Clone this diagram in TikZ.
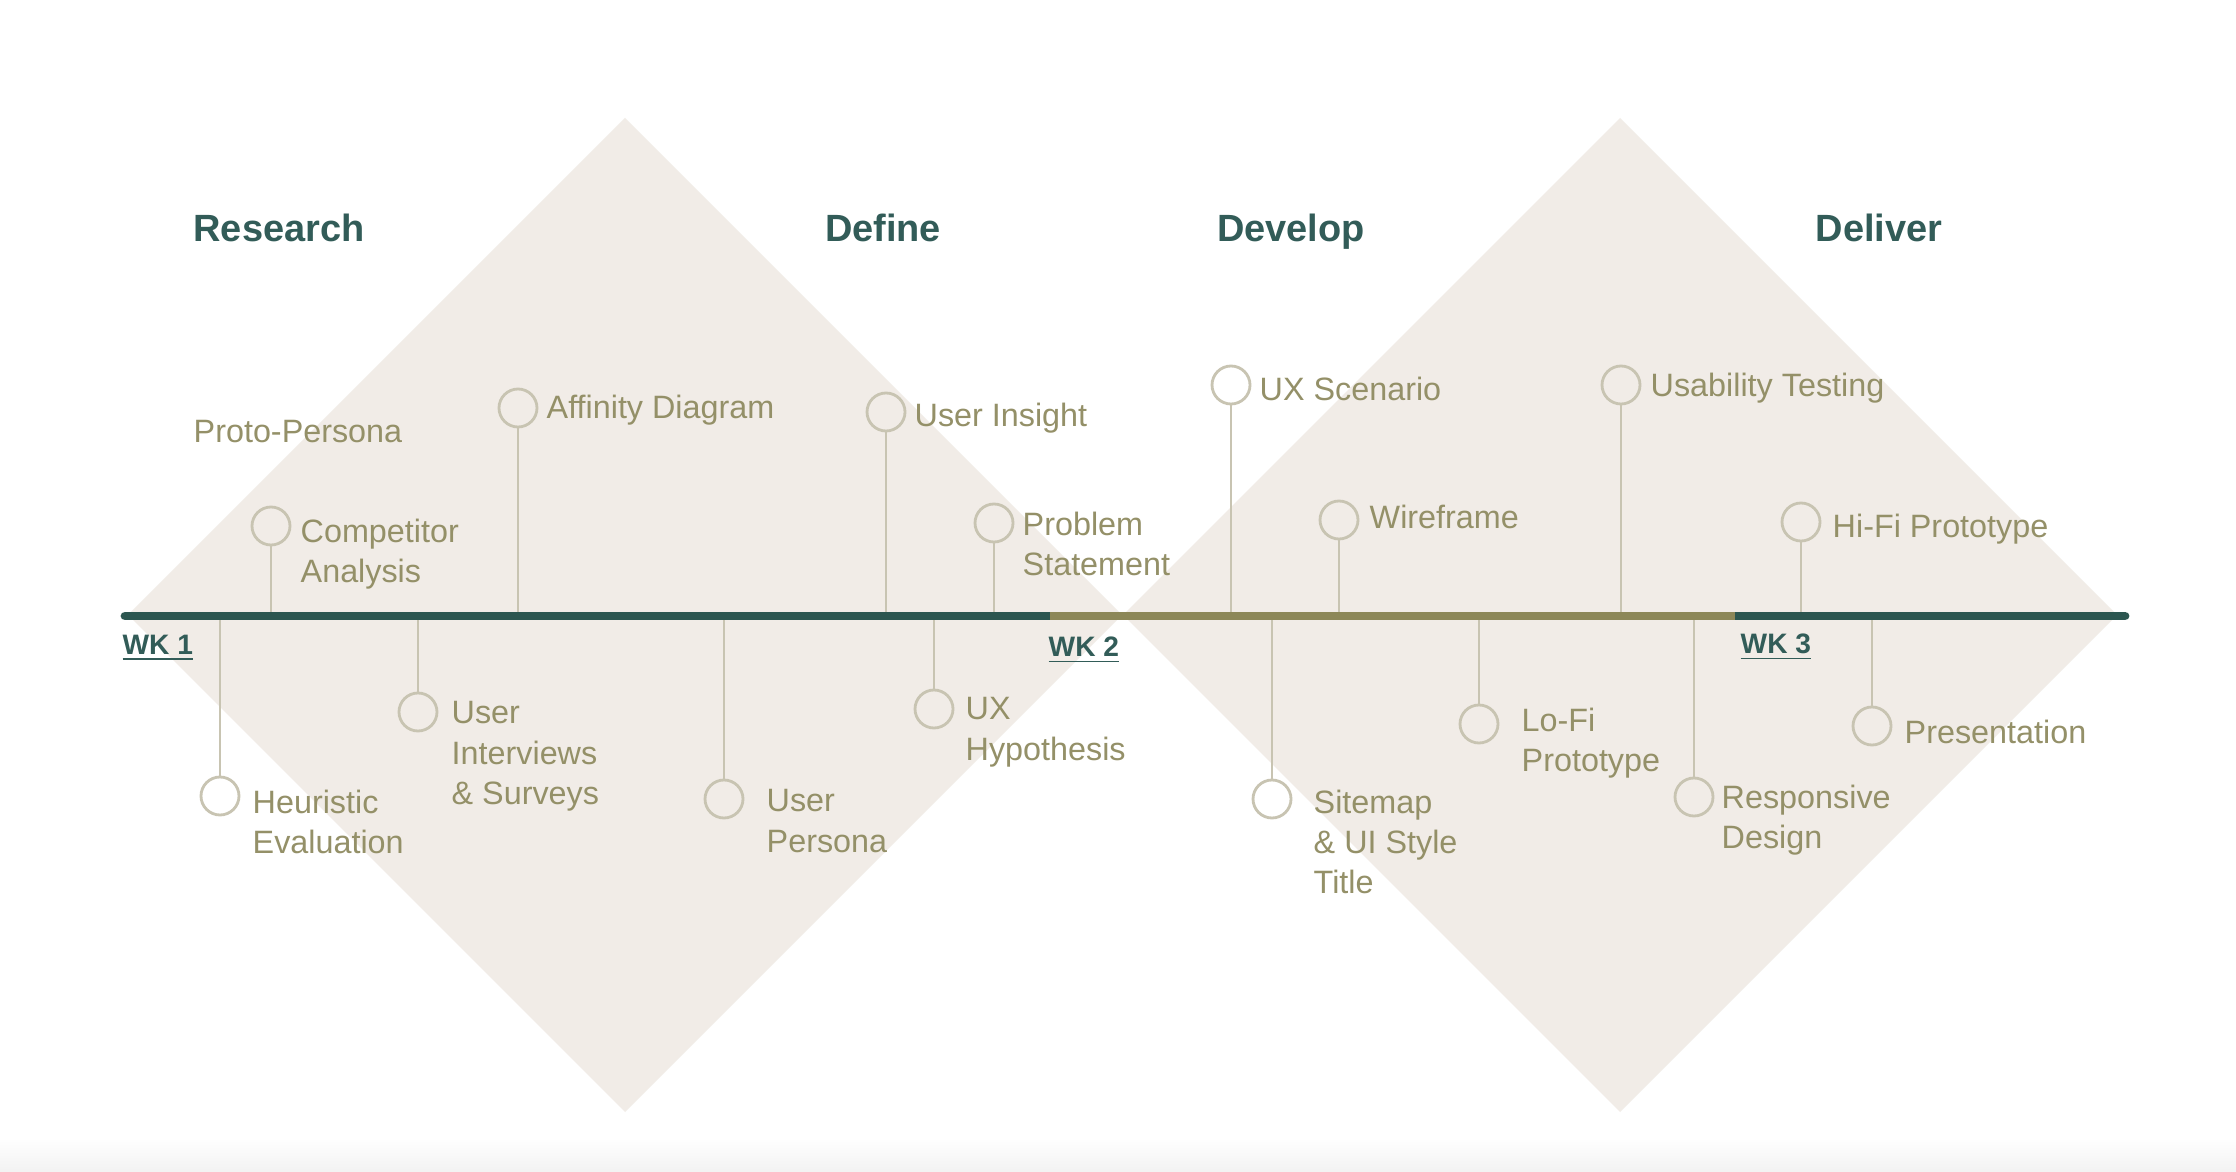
\documentclass[tikz,border=0pt]{standalone}
\usepackage{fontspec}
\setmainfont{Liberation Sans}
\usepackage{xcolor}
\usepackage{tikz}

\definecolor{diamondfill}{RGB}{241,236,231}
\definecolor{tealdark}{RGB}{44,86,80}
\definecolor{olivebar}{RGB}{140,135,88}
\definecolor{olivetext}{RGB}{148,144,104}
\definecolor{stemgray}{RGB}{200,196,178}
\definecolor{headteal}{RGB}{50,92,88}

\tikzset{
  phase/.style={anchor=base, inner sep=0pt, text=headteal, font=\fontsize{10.8}{13}\selectfont\bfseries},
  week/.style={anchor=north west, inner sep=0pt, text=headteal, font=\fontsize{8}{10}\selectfont\bfseries},
  dot/.style={circle, draw=stemgray, line width=0.8pt, minimum size=3.8mm, inner sep=0pt},
  stem/.style={draw=stemgray, line width=0.6pt},
  lbl/.style={anchor=north west, inner sep=0pt, align=left, text=olivetext, font=\fontsize{9.2}{11.4}\selectfont},
  bar/.style={line width=2.5pt}
}

\begin{document}
\begin{tikzpicture}[x=0.1mm, y=-0.1mm]

% Canvas
\fill[white] (0,0) rectangle (2236,1172);
\shade[top color=white, bottom color=black!5] (0,1138) rectangle (2236,1172);

% Double diamond
\fill[diamondfill] (128,615) -- (625,118) -- (1122,615) -- (625,1112) -- cycle;
\fill[diamondfill] (1123,615) -- (1620,118) -- (2117,615) -- (1620,1112) -- cycle;

% Phase titles
\node[phase] (hResearch) at (279,242) {Research};
\node[phase] (hDefine) at (883,242) {Define};
\node[phase] (hDevelop) at (1291,242) {Develop};
\node[phase] (hDeliver) at (1879,242) {Deliver};

% Timeline anchors
\coordinate (wkA) at (125,616);
\coordinate (wkB) at (1050,616);
\coordinate (wkC) at (1735,616);
\coordinate (tlEnd) at (2125,616);

% Upper milestones
\node[lbl] (tProto) at (193,420) {Proto-Persona};

\node[dot] (cComp) at (271,526) {};
\node[lbl] (tComp) at (300,518) {Competitor\\Analysis};

\node[dot] (cAff) at (518,408) {};
\node[lbl] (tAff) at (546,394) {Affinity Diagram};

\node[dot] (cIns) at (886,412) {};
\node[lbl] (tIns) at (914,402) {User Insight};

\node[dot] (cProb) at (994,523) {};
\node[lbl] (tProb) at (1022,511) {Problem\\Statement};

\node[dot] (cScen) at (1231,385) {};
\node[lbl] (tScen) at (1259,376) {UX Scenario};

\node[dot] (cWire) at (1339,520) {};
\node[lbl] (tWire) at (1369,504) {Wireframe};

\node[dot] (cUsab) at (1621,385) {};
\node[lbl] (tUsab) at (1650,372) {Usability Testing};

\node[dot] (cHifi) at (1801,522) {};
\node[lbl] (tHifi) at (1832,513) {Hi-Fi Prototype};

% Lower milestones
\node[dot] (cHeur) at (220,796) {};
\node[lbl] (tHeur) at (252,789) {Heuristic\\Evaluation};

\node[dot] (cIntv) at (418,712) {};
\node[lbl] (tIntv) at (451,701) {User\\Interviews\\\& Surveys};

\node[dot] (cPers) at (724,799) {};
\node[lbl] (tPers) at (766,789) {User\\Persona};

\node[dot] (cHyp) at (934,709) {};
\node[lbl] (tHyp) at (965,697) {UX\\Hypothesis};

\node[dot] (cSite) at (1272,799) {};
\node[lbl] (tSite) at (1313,789) {Sitemap\\\& UI Style\\Title};

\node[dot] (cLofi) at (1479,724) {};
\node[lbl] (tLofi) at (1521,707) {Lo-Fi\\Prototype};

\node[dot] (cResp) at (1694,797) {};
\node[lbl] (tResp) at (1721,784) {Responsive\\Design};

\node[dot] (cPres) at (1872,726) {};
\node[lbl] (tPres) at (1904,719) {Presentation};

% Stems
\foreach \c in {cComp,cAff,cIns,cProb,cScen,cWire,cUsab,cHifi}
  \draw[stem] (\c.south) -- (\c |- wkA);
\foreach \c in {cHeur,cIntv,cPers,cHyp,cSite,cLofi,cResp,cPres}
  \draw[stem] (\c.north) -- (\c |- wkA);

% Timeline
\draw[bar, tealdark, line cap=round] (wkA) -- (wkB);
\draw[bar, tealdark, line cap=round] (wkC) -- (tlEnd);
\draw[bar, olivebar] (wkB) -- (wkC);

% Week labels
\node[week] (wk1) at (122,634) {\underline{WK 1}};
\node[week] (wk2) at (1048,636) {\underline{WK 2}};
\node[week] (wk3) at (1740,633) {\underline{WK 3}};

\end{tikzpicture}
\end{document}
